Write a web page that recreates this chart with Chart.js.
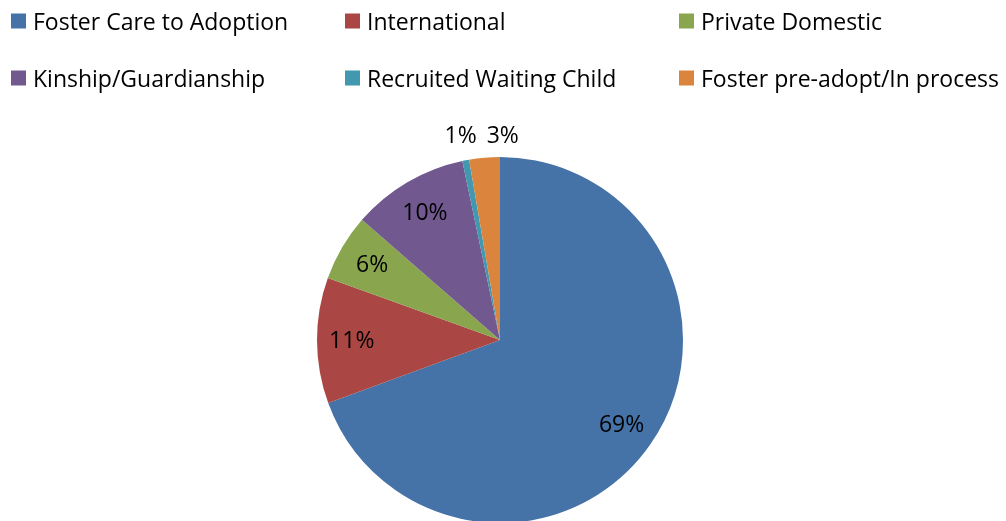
<!DOCTYPE html>
<html>
<head>
<meta charset="utf-8">
<script src="https://cdn.jsdelivr.net/npm/chart.js@4/dist/chart.umd.min.js"></script>
<style>
    body { margin: 0; background: #ffffff; }
    #wrap { width: 1006px; height: 521px; }
</style>
</head>
<body>
<div id="wrap">
    <canvas id="myChart" width="1006" height="521"></canvas>
</div>
<script>

// =======================================
// DATA
// =======================================

const categories = [
    "Foster Care to Adoption",
    "International",
    "Private Domestic",
    "Kinship/Guardianship",
    "Recruited Waiting Child",
    "Foster pre-adopt/In process"
];

const shares = [69.4, 11.1, 5.9, 10.3, 0.6, 2.7];

const colors = [
    "#4572A7",
    "#AA4643",
    "#89A54E",
    "#71588F",
    "#4198AF",
    "#DB843D"
];

const FONT = "'Open Sans', 'Liberation Sans', sans-serif";

// =======================================
// LEGEND (3 columns, 2 rows)
// =======================================

const gridLegend = {

    id: 'gridLegend',

    afterDraw(chart, args, opts){

        const ctx = chart.ctx;

        ctx.save();

        ctx.font = opts.fontSize + "px " + FONT;
        ctx.textBaseline = "middle";
        ctx.textAlign = "left";

        chart.data.labels.forEach(function(label, i){

            let col = i % 3;
            let row = Math.floor(i / 3);

            let x = opts.columns[col];
            let y = opts.rows[row];

            ctx.fillStyle = chart.data.datasets[0].backgroundColor[i];
            ctx.fillRect(x, y - opts.box / 2, opts.box, opts.box);

            ctx.fillStyle = "#000000";
            ctx.fillText(label, x + opts.box + 7, y + 2);
        });

        ctx.restore();
    }
};

// =======================================
// PERCENT LABELS
// =======================================

const pctLabels = {

    id: 'pctLabels',

    afterDatasetsDraw(chart, args, opts){

        const ctx = chart.ctx;
        const meta = chart.getDatasetMeta(0);
        const values = chart.data.datasets[0].data;
        const total = values.reduce((a, b) => a + b, 0);

        ctx.save();

        ctx.font = opts.fontSize + "px " + FONT;
        ctx.fillStyle = "#000000";
        ctx.textAlign = "center";
        ctx.textBaseline = "middle";

        let lastRight = null;

        meta.data.forEach(function(arc, i){

            let p = arc.getProps(
                ['x', 'y', 'startAngle', 'endAngle', 'outerRadius'],
                true
            );

            let pct = values[i] / total * 100;
            let text = Math.round(pct) + "%";
            let mid = (p.startAngle + p.endAngle) / 2;

            let f = pct < 4 ? opts.outside : opts.inside;

            let x = p.x + Math.cos(mid) * p.outerRadius * f;
            let y = p.y + Math.sin(mid) * p.outerRadius * f;

            if(pct < 4){

                let w = ctx.measureText(text).width;

                // push away from previous outside label
                if(lastRight !== null && x - w / 2 < lastRight + opts.gap){
                    x = lastRight + opts.gap + w / 2;
                }

                y = p.y - p.outerRadius * opts.outside + 6;
                lastRight = x + w / 2;
            }

            ctx.fillText(text, x, y + 1);
        });

        ctx.restore();
    }
};

// =======================================
// CHART
// =======================================

const ctx = document.getElementById('myChart').getContext('2d');

const myChart = new Chart(ctx, {

    type: 'pie',

    data: {

        labels: categories,

        datasets: [
            {
                data: shares,

                backgroundColor: colors,

                borderWidth: 0,

                radius: 183
            }
        ]
    },

    options: {

        responsive: false,

        animation: false,

        layout: {
            padding: { top: 159, bottom: 0, left: 0, right: 6 }
        },

        plugins: {

            legend: { display: false },

            tooltip: { enabled: false },

            gridLegend: {
                columns: [11, 345, 679],
                rows: [21, 78],
                box: 15,
                fontSize: 23
            },

            pctLabels: {
                fontSize: 23,
                inside: 0.81,
                outside: 1.15,
                gap: 10
            }
        }
    },

    plugins: [gridLegend, pctLabels]
});

</script>
</body>
</html>
